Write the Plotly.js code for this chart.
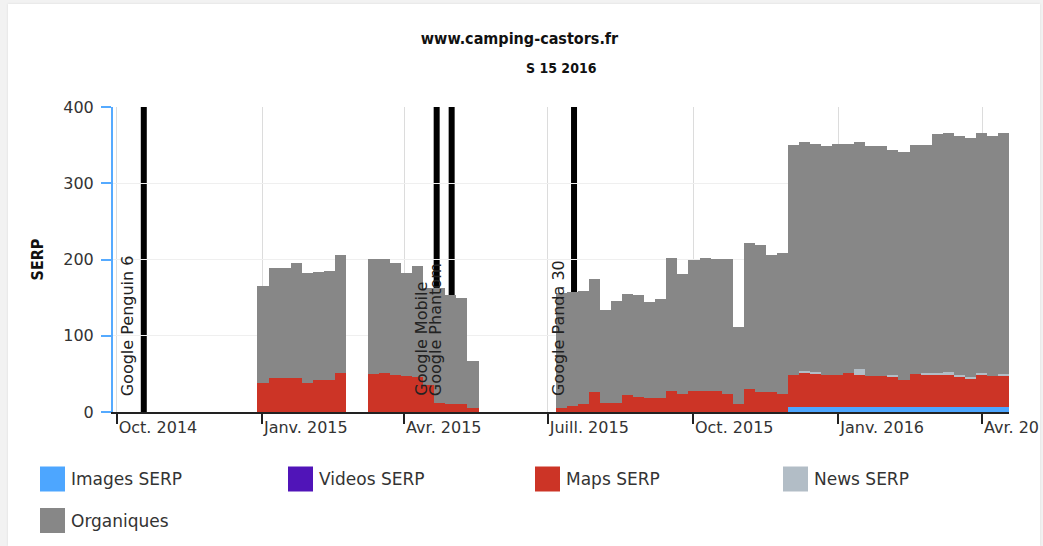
<!DOCTYPE html>
<html>
<head>
<meta charset="utf-8">
<script src="https://cdn.plot.ly/plotly-3.0.1.min.js"></script>
<style>
  html, body { margin: 0; padding: 0; background: #f2f2f2; }
  #wrap { position: absolute; left: 8px; top: 4px; width: 1032px; height: 542px; overflow: hidden; background: #fff; box-shadow: 0 0 2px #d8d8d8; }
  #chart { position: absolute; left: -8px; top: -4px; width: 1043px; height: 546px; }
</style>
</head>
<body>
<div id="wrap"><div id="chart"></div></div>
<script>
// ISO weeks 2015-W01 ... 2016-W15 (Thursday noon of each week)
const weeks = [
  '2015-01-01','2015-01-08','2015-01-15','2015-01-22','2015-01-29','2015-02-05','2015-02-12','2015-02-19',
  '2015-02-26','2015-03-05','2015-03-12','2015-03-19','2015-03-26','2015-04-02','2015-04-09','2015-04-16',
  '2015-04-23','2015-04-30','2015-05-07','2015-05-14','2015-05-21','2015-05-28','2015-06-04','2015-06-11',
  '2015-06-18','2015-06-25','2015-07-02','2015-07-09','2015-07-16','2015-07-23','2015-07-30','2015-08-06',
  '2015-08-13','2015-08-20','2015-08-27','2015-09-03','2015-09-10','2015-09-17','2015-09-24','2015-10-01',
  '2015-10-08','2015-10-15','2015-10-22','2015-10-29','2015-11-05','2015-11-12','2015-11-19','2015-11-26',
  '2015-12-03','2015-12-10','2015-12-17','2015-12-24','2015-12-31','2016-01-07','2016-01-14','2016-01-21',
  '2016-01-28','2016-02-04','2016-02-11','2016-02-18','2016-02-25','2016-03-03','2016-03-10','2016-03-17',
  '2016-03-24','2016-03-31','2016-04-07','2016-04-14'
];
const _ = null;
const imagesSerp = [
  0,0,0,0,0,0,0,0, _,_, 0,0,0,0,0,0,0,0,0,0, _,_,_,_,_,_,_,
  0,0,0,0,0,0,0,0,0,0,0,0,0,0,0,0,0,0,0,0,0,
  6,6,6,6,6,6,6,6,6,6,6,6,6,6,6,6,6,6,6,6
];
const videosSerp = [
  0,0,0,0,0,0,0,0, _,_, 0,0,0,0,0,0,0,0,0,0, _,_,_,_,_,_,_,
  0,0,0,0,0,0,0,0,0,0,0,0,0,0,0,0,0,0,0,0,0,
  0,0,0,0,0,0,0,0,0,0,0,0,0,0,0,0,0,0,0,0
];
const mapsSerp = [
  38,44,44,45,38,42,42,51, _,_, 50,51,49,47,46,35,12,11,11,5, _,_,_,_,_,_,_,
  5,8,10,26,12,12,22,20,18,19,27,24,27,28,28,24,10,30,26,26,24,
  43,45,45,42,43,45,43,41,41,40,36,44,42,43,42,40,37,42,41,41
];
const newsSerp = [
  0,0,0,0,0,0,0,0, _,_, 0,0,0,0,0,0,0,0,0,0, _,_,_,_,_,_,_,
  0,0,0,0,0,0,0,0,0,0,0,0,0,0,0,0,0,0,0,0,0,
  0,3,2,0,0,0,7,0,0,3,0,0,3,2,5,3,3,3,0,3
];
const organiques = [
  127,145,145,151,144,142,143,155, _,_, 151,150,147,135,146,128,151,142,138,62, _,_,_,_,_,_,_,
  151,149,149,149,122,133,133,133,126,129,175,157,173,174,173,177,102,191,193,180,185,
  301,300,299,301,302,301,298,302,302,295,299,300,299,314,313,313,314,315,315,316
];
const seriesNames = ['Images SERP', 'Videos SERP', 'Maps SERP', 'News SERP', 'Organiques'];
const seriesColors = ['#4da6ff', '#5014b8', '#cc3426', '#b2bdc6', '#878787'];
const seriesValues = [imagesSerp, videosSerp, mapsSerp, newsSerp, organiques];

const tickDates = ['2014-10-01','2015-01-01','2015-04-01','2015-07-01','2015-10-01','2016-01-01','2016-04-01'];
const tickLabels = ['Oct. 2014','Janv. 2015','Avr. 2015','Juill. 2015','Oct. 2015','Janv. 2016','Avr. 2016'];
const yTicks = [0, 100, 200, 300, 400];

const eventDates = ['2014-10-18 00:00', '2015-04-21 12:00', '2015-05-01 00:00', '2015-07-17 12:00'];
const eventNames = ['Google Penguin 6', 'Google Mobile', 'Google Phantom', 'Google Panda 30'];

const chartTitle = 'www.camping-castors.fr';
const chartSubtitle = 'S 15 2016';
const yTitle = 'SERP';

// ---- drawing ----
const xs = weeks.map(d => d + ' 12:00');
const WEEK = 7 * 24 * 3600 * 1000;
const traces = seriesNames.map((n, i) => ({
  type: 'bar', name: n, x: xs, y: seriesValues[i],
  width: WEEK, marker: { color: seriesColors[i], line: { width: 0 } },
  hoverinfo: 'x+y+name'
}));

const L = 113, R = 1009, T = 107, B = 412, W = 1043, H = 546;
const px = x => (x - L) / (R - L);
const py = y => (B - y) / (B - T);

const boldFont = 'DejaVu Sans Condensed, DejaVu Sans, sans-serif';
const regFont = 'DejaVu Sans, Verdana, sans-serif';

const shapes = eventDates.map(d => ({
  type: 'line', xref: 'x', yref: 'paper', x0: d, x1: d, y0: 0, y1: 1,
  line: { color: '#000', width: 6 }, layer: 'between'
}));
const annotations = eventDates.map((d, i) => ({
  x: d, xref: 'x', y: 0, yref: 'y', yanchor: 'bottom', xanchor: 'center',
  yshift: 14, xshift: -16, textangle: -90, showarrow: false,
  text: eventNames[i], font: { family: regFont, size: 16, color: '#222' }
}));
annotations.push({
  x: px(561.5), xref: 'paper', y: py(68), yref: 'paper', xanchor: 'center', yanchor: 'middle',
  showarrow: false, text: '<b>' + chartSubtitle + '</b>',
  font: { family: boldFont, size: 14, color: '#111' }
});

// legend (custom, square swatches)
const legX = [40, 288, 535, 783, 40];
const legY = [479, 479, 479, 479, 520.5];
seriesNames.forEach((n, i) => {
  shapes.push({
    type: 'rect', xref: 'paper', yref: 'paper',
    x0: px(legX[i]), x1: px(legX[i] + 25), y0: py(legY[i] + 12.5), y1: py(legY[i] - 12.5),
    fillcolor: seriesColors[i], line: { width: 0 }
  });
  annotations.push({
    x: px(legX[i] + 29), xref: 'paper', y: py(legY[i]), yref: 'paper',
    xanchor: 'left', yanchor: 'middle', showarrow: false, text: n,
    font: { family: regFont, size: 17, color: '#333' }
  });
});

const layout = {
  width: W, height: H,
  margin: { l: L, r: W - R, t: T, b: H - B, pad: 0 },
  paper_bgcolor: '#fff', plot_bgcolor: '#fff',
  showlegend: false,
  barmode: 'stack', bargap: 0,
  title: {
    text: '<b>' + chartTitle + '</b>', x: 519.5 / W, xref: 'container', xanchor: 'center',
    y: 1 - 38 / H, yref: 'container', yanchor: 'middle',
    font: { family: boldFont, size: 16, color: '#111' }
  },
  xaxis: {
    type: 'date', range: ['2014-09-28 12:00', '2016-04-18 00:00'],
    tickmode: 'array', tickvals: tickDates, ticktext: tickLabels,
    ticks: 'outside', ticklen: 10, tickwidth: 1.5, tickcolor: '#222',
    ticklabelposition: 'outside right', ticklabeloverflow: 'allow',
    showline: true, linecolor: '#222', linewidth: 2,
    showgrid: true, gridcolor: '#dcdcdc', gridwidth: 1,
    zeroline: false, fixedrange: true,
    tickfont: { family: regFont, size: 16, color: '#333' }
  },
  yaxis: {
    range: [0, 400], tickmode: 'array', tickvals: yTicks,
    ticks: 'outside', ticklen: 10, tickwidth: 1.5, tickcolor: '#55aaff',
    ticklabelstandoff: 4,
    showline: true, linecolor: '#55aaff', linewidth: 2,
    showgrid: true, gridcolor: '#efefef', gridwidth: 1, zeroline: false,
    tickfont: { family: regFont, size: 16, color: '#333' },
    title: { text: '<b>' + yTitle + '</b>', standoff: 16, font: { family: boldFont, size: 16, color: '#111' } },
    fixedrange: true
  },
  shapes: shapes,
  annotations: annotations
};

Plotly.newPlot('chart', traces, layout, { displayModeBar: false, staticPlot: false });
</script>
</body>
</html>
